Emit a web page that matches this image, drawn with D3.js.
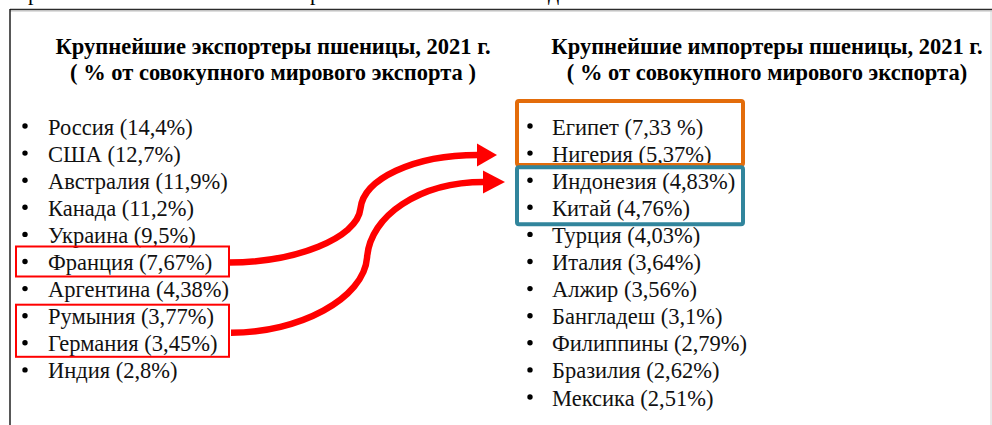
<!DOCTYPE html>
<html>
<head>
<meta charset="utf-8">
<script src="https://cdn.jsdelivr.net/npm/d3@7"></script>
<style>
  body { margin: 0; background: #fff; }
  svg { display: block; }
</style>
</head>
<body>
<div id="chart"></div>
<script>
// data
var exportersTitle = ["Крупнейшие экспортеры пшеницы, 2021 г.", "( % от совокупного мирового экспорта )"];
var importersTitle = ["Крупнейшие импортеры пшеницы, 2021 г.", "( % от совокупного мирового экспорта)"];
var exporters = ["Россия", "США", "Австралия", "Канада", "Украина", "Франция", "Аргентина", "Румыния", "Германия", "Индия"];
var exportShares = ["14,4%", "12,7%", "11,9%", "11,2%", "9,5%", "7,67%", "4,38%", "3,77%", "3,45%", "2,8%"];
var importers = ["Египет", "Нигерия", "Индонезия", "Китай", "Турция", "Италия", "Алжир", "Бангладеш", "Филиппины", "Бразилия", "Мексика"];
var importShares = ["7,33 %", "5,37%", "4,83%", "4,76%", "4,03%", "3,64%", "3,56%", "3,1%", "2,79%", "2,62%", "2,51%"];
// which rows are boxed and linked
var exportGroups = [[5], [7, 8]];
var importGroups = [[0, 1], [2, 3]];
var links = [{ from: 0, to: 1 }, { from: 1, to: 2 }];

var width = 992, height = 425;
var serif = "'Liberation Serif', 'Times New Roman', serif";

var svg = d3.select("#chart").append("svg")
  .attr("width", width)
  .attr("height", height);

// row centers
var y = d3.scaleLinear().domain([0, 1]).range([127, 154.1]);

// frame
svg.append("line").attr("x1", 10).attr("x2", width).attr("y1", 9.5).attr("y2", 9.5)
  .attr("stroke", "#2b2b2b").attr("stroke-width", 1.6);
svg.append("line").attr("x1", 10).attr("x2", width).attr("y1", 11).attr("y2", 11)
  .attr("stroke", "#bdbdbd").attr("stroke-width", 1);
svg.append("line").attr("x1", 10).attr("x2", 10).attr("y1", 9).attr("y2", height)
  .attr("stroke", "#111").attr("stroke-width", 1.4);
svg.append("line").attr("x1", 991).attr("x2", 991).attr("y1", 11).attr("y2", height)
  .attr("stroke", "#d4d4d4").attr("stroke-width", 1);

// cut-off line of text above the frame
var cut = svg.append("text").attr("y", 0).attr("font-family", serif).attr("font-size", 22).attr("fill", "#000");
cut.append("tspan").attr("x", 28).text("р");
cut.append("tspan").attr("x", 310).text("р");
cut.append("tspan").attr("x", 548).text("д");

// titles
function title(lines, cx) {
  svg.selectAll(null).data(lines).enter().append("text")
    .attr("x", cx)
    .attr("y", function(d, i) { return 54 + i * 26; })
    .attr("text-anchor", "middle")
    .attr("font-family", serif)
    .attr("font-weight", "bold")
    .attr("font-size", 22.5)
    .attr("fill", "#000")
    .text(function(d) { return d; });
}
title(exportersTitle, 273);
title(importersTitle, 767);

// lists
function list(names, shares, bx, tx) {
  var g = svg.append("g");
  g.selectAll("circle").data(names).enter().append("circle")
    .attr("cx", bx).attr("cy", function(d, i) { return y(i) - 1; })
    .attr("r", 2.7).attr("fill", "#000");
  g.selectAll("text").data(names).enter().append("text")
    .attr("x", tx)
    .attr("y", function(d, i) { return y(i) + 7.5; })
    .attr("font-family", serif)
    .attr("font-size", 22.5)
    .attr("fill", "#111")
    .text(function(d, i) { return d + " (" + shares[i] + ")"; });
}
list(exporters, exportShares, 25, 48);
list(importers, importShares, 530, 552);

// boxes
var leftBox = { x0: 16, x1: 229, padTop: [16, 12], padBottom: [14, 13], color: "#ff0000", w: 2, rx: 0 };
var rightBox = { x0: 517, x1: 743, padTop: [26, 14], padBottom: [11, 16], color: ["#e36c0a", "#31859c"], w: 4, rx: 2 };

exportGroups.forEach(function(g, k) {
  var top = y(g[0]) - leftBox.padTop[k], bot = y(g[g.length - 1]) + leftBox.padBottom[k];
  svg.append("rect").attr("x", leftBox.x0).attr("y", top)
    .attr("width", leftBox.x1 - leftBox.x0).attr("height", bot - top)
    .attr("fill", "none").attr("stroke", leftBox.color).attr("stroke-width", leftBox.w);
});
importGroups.forEach(function(g, k) {
  var top = y(g[0]) - rightBox.padTop[k], bot = y(g[g.length - 1]) + rightBox.padBottom[k];
  svg.append("rect").attr("x", rightBox.x0).attr("y", top)
    .attr("width", rightBox.x1 - rightBox.x0).attr("height", bot - top)
    .attr("rx", rightBox.rx)
    .attr("fill", "none").attr("stroke", rightBox.color[k]).attr("stroke-width", rightBox.w);
});

// arrows
var tipX = [497, 505], headLen = [20, 22], startX = [229, 231], midFrac = [0.53, 0.54];
links.forEach(function(l, k) {
  var src = exportGroups[l.from];
  var x0 = startX[k], y0 = d3.mean(src, function(i) { return y(i); }) + (src.length > 1 ? 2.5 : 0);
  var x1 = tipX[k] - headLen[k], y1 = y(l.to) + 0.8;
  var xm = x0 + (x1 - x0) * midFrac[k], ym = (y0 + y1) / 2, half = (y0 - y1) / 2;
  var p = d3.path();
  p.moveTo(x0, y0);
  p.bezierCurveTo(x0 + 0.5 * (xm - x0), y0, xm - 3, ym + half * 0.55, xm, ym);
  p.bezierCurveTo(xm + 3, ym - half * 0.55, x1 - 0.55 * (x1 - xm), y1, x1 + 1, y1);
  svg.append("path").attr("d", p.toString())
    .attr("fill", "none").attr("stroke", "#ff0000").attr("stroke-width", 6.5);
  svg.append("polygon")
    .attr("points", [[x1, y1 - 11.5], [tipX[k], y1], [x1, y1 + 11.5]].map(function(q) { return q.join(","); }).join(" "))
    .attr("fill", "#ff0000");
});
</script>
</body>
</html>
